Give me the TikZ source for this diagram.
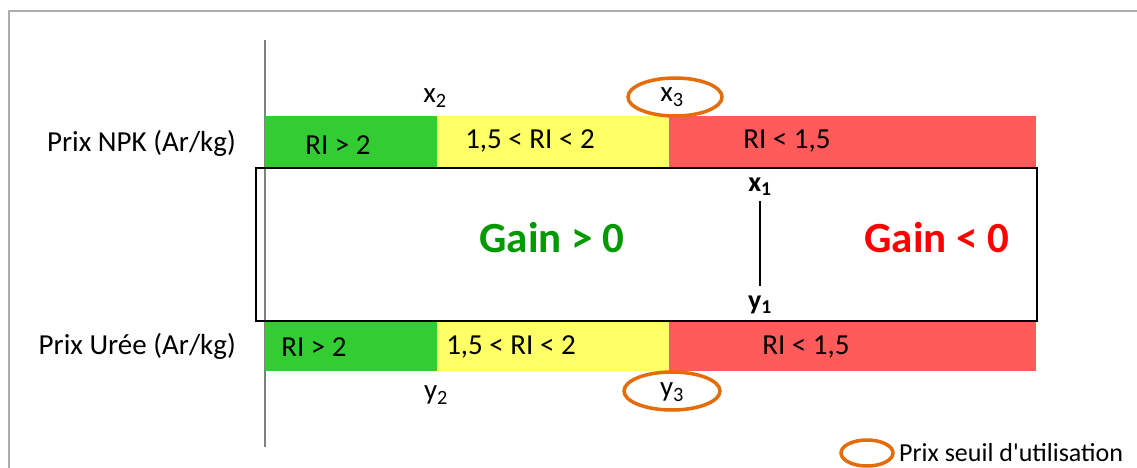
\documentclass[tikz,border=0pt]{standalone}
\usepackage{fontspec}
\setmainfont{Carlito}
\definecolor{vert}{HTML}{33CC33}
\definecolor{jaune}{HTML}{FFFF66}
\definecolor{rouge}{HTML}{FF5B5B}
\definecolor{orange}{HTML}{E46C0A}
\definecolor{gainvert}{HTML}{009900}
\begin{document}
\begin{tikzpicture}[x=1pt, y=-1pt,
    every node/.style={font=\fontsize{29}{34}\selectfont, inner sep=0pt},
    seuil/.style={draw=orange, line width=3.5pt},
    gain/.style={font=\fontsize{43}{50}\selectfont\bfseries}]
    \useasboundingbox (0,0) rectangle (1137,468);

    % cadre et axe
    \draw[gray!65, line width=1.5pt] (9,468) -- (9,11) -- (1137,11);
    \draw[gray, line width=1.5pt] (265,40) -- (265,447);

    % bandes
    \fill[vert] (265,116) rectangle (437,167);
    \fill[jaune] (437,116) rectangle (669,167);
    \fill[rouge] (669,116) rectangle (1036,167);
    \fill[vert] (265,322) rectangle (437,371);
    \fill[jaune] (437,322) rectangle (669,371);
    \fill[rouge] (669,322) rectangle (1036,371);

    % zone de gain
    \draw[line width=2.5pt] (256,168) rectangle (1037,321);

    % libellés
    \node[anchor=east] (npk) at (236,143) {Prix NPK (Ar/kg)};
    \node[anchor=east] (uree) at (236,346) {Prix Urée (Ar/kg)};
    \node (ri1) at (338,145) {RI > 2};
    \node (ri2) at (530,141) {1,5 < RI < 2};
    \node (ri3) at (787,141) {RI < 1,5};
    \node (ri4) at (314,347) {RI > 2};
    \node (ri5) at (511,347) {1,5 < RI < 2};
    \node (ri6) at (806,347) {RI < 1,5};

    % seuils
    \node (x2) at (435,98) {x\textsubscript{2}};
    \node (x3) at (672,97) {x\textsubscript{3}};
    \node (y2) at (436,395) {y\textsubscript{2}};
    \node (y3) at (672,392) {y\textsubscript{3}};
    \draw[seuil] (675,97) ellipse [x radius=47, y radius=19];
    \draw[seuil] (672,391) ellipse [x radius=48, y radius=19];

    \node[font=\fontsize{28}{32}\selectfont\bfseries] (x1) at (760,187) {x\textsubscript{1}};
    \node[font=\fontsize{28}{32}\selectfont\bfseries] (y1) at (760,305) {y\textsubscript{1}};
    \draw[line width=2.5pt] (x1) ++(0,14) coordinate (a) -- (a |- 0,286);

    \node[gain, text=gainvert] (gp) at (552,238) {Gain > 0};
    \node[gain, text=red] (gn) at (937,238) {Gain < 0};

    % légende
    \draw[seuil] (867,453) ellipse [x radius=26, y radius=13];
    \node[anchor=west, font=\fontsize{26}{30}\selectfont] (leg) at (899,453) {Prix seuil d\textquotesingle utilisation};
\end{tikzpicture}
\end{document}
